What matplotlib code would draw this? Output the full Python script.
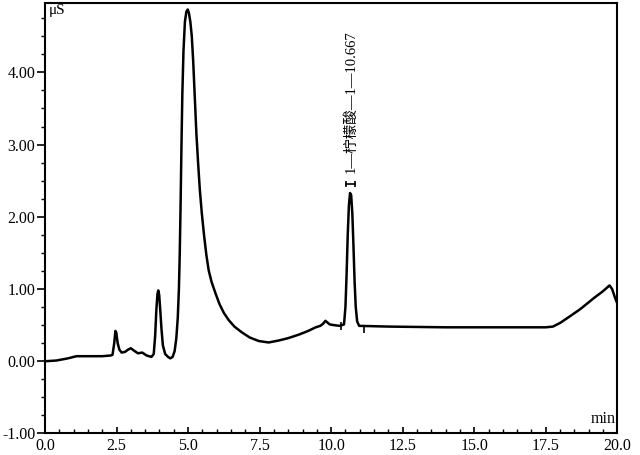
import matplotlib.pyplot as plt
from matplotlib.ticker import MultipleLocator

# retention time (min) and conductivity (uS)
t = [0.00, 0.40, 0.80, 1.10, 1.50, 2.00, 2.30, 2.36, 2.42, 2.46, 2.49, 2.54,
     2.60, 2.68, 2.80, 2.90, 3.00, 3.10, 3.25, 3.40, 3.55, 3.72, 3.80, 3.85,
     3.89, 3.93, 3.96, 3.99, 4.03, 4.07, 4.12, 4.20, 4.30, 4.38, 4.46, 4.53,
     4.59, 4.64, 4.68, 4.71, 4.74, 4.77, 4.80, 4.84, 4.89, 4.94, 4.99, 5.03,
     5.08, 5.13, 5.18, 5.23, 5.29, 5.35, 5.41, 5.48, 5.56, 5.64, 5.72, 5.82,
     5.95, 6.10, 6.25, 6.42, 6.62, 6.88, 7.15, 7.47, 7.82, 8.20, 8.50, 8.88,
     9.20, 9.46, 9.62, 9.72, 9.80, 9.86, 9.95, 10.10, 10.30, 10.45, 10.50,
     10.54, 10.58, 10.62, 10.66, 10.70, 10.74, 10.78, 10.82, 10.86, 10.91,
     10.98, 12.00, 14.00, 16.00, 17.50, 17.75, 18.00, 18.30, 18.70, 19.20,
     19.50, 19.73, 19.82, 19.92, 20.00]
signal = [0.00, 0.01, 0.04, 0.07, 0.07, 0.07, 0.08, 0.09, 0.25, 0.42, 0.40, 0.25,
          0.16, 0.12, 0.13, 0.16, 0.18, 0.15, 0.11, 0.12, 0.08, 0.06, 0.10, 0.35,
          0.70, 0.93, 0.98, 0.92, 0.70, 0.45, 0.22, 0.10, 0.06, 0.04, 0.06, 0.14,
          0.32, 0.60, 1.00, 1.50, 2.20, 3.00, 3.70, 4.30, 4.70, 4.84, 4.87, 4.82,
          4.70, 4.50, 4.15, 3.70, 3.16, 2.75, 2.38, 2.05, 1.74, 1.47, 1.26, 1.10,
          0.95, 0.79, 0.67, 0.57, 0.48, 0.40, 0.33, 0.28, 0.26, 0.29, 0.32, 0.37,
          0.42, 0.47, 0.49, 0.52, 0.56, 0.54, 0.51, 0.50, 0.49, 0.51, 0.75,
          1.20, 1.75, 2.15, 2.33, 2.30, 2.05, 1.60, 1.10, 0.75, 0.55,
          0.49, 0.48, 0.47, 0.47, 0.47, 0.48, 0.53, 0.61, 0.72, 0.88,
          0.97, 1.05, 1.00, 0.88, 0.80]

peak_label = "1—柠檬酸—1—10.667"
peak_time = 10.68
peak_height = 2.34
peak_start, peak_end = 10.34, 11.16
xticks = [0.0, 2.5, 5.0, 7.5, 10.0, 12.5, 15.0, 17.5, 20.0]
yticks = [-1.0, 0.0, 1.0, 2.0, 3.0, 4.0]

fig = plt.figure(figsize=(6.4, 4.55), dpi=100)
ax = fig.add_axes([0.0703, 0.0473, 0.8942, 0.9461])

ax.plot(t, signal, color='black', lw=1.8, solid_joinstyle='round')

# integration marks
ax.plot([peak_start], [0.49], marker='|', color='black', ms=6, mew=1.2)
ax.plot([peak_end], [0.45], marker='|', color='black', ms=6, mew=1.2)
ax.plot([peak_time - 0.17, peak_time + 0.17], [peak_height + 0.12] * 2,
        color='black', lw=1.2, marker='|', ms=5, mew=1.2)

ax.text(peak_time + 0.02, peak_height + 0.26, peak_label, rotation=90,
        ha='center', va='bottom', fontsize=10.5,
        family=['Liberation Serif', 'Noto Sans CJK SC'])

ax.set_xlim(0, 20)
ax.set_ylim(-1.0, 4.96)
ax.set_xticks(xticks)
ax.set_xticklabels(['%.1f' % v for v in xticks])
ax.set_yticks(yticks)
ax.set_yticklabels(['%.2f' % v for v in yticks])
ax.xaxis.set_minor_locator(MultipleLocator(0.5))
ax.yaxis.set_minor_locator(MultipleLocator(0.25))

ax.tick_params(axis='x', which='major', direction='in', length=4, width=1.2,
               pad=3, labelsize=11.5)
ax.tick_params(axis='x', which='minor', direction='in', length=3, width=1.0)
ax.tick_params(axis='y', which='major', direction='out', length=6, width=1.2,
               pad=1, labelsize=11.5)
ax.tick_params(axis='y', which='minor', direction='out', length=3, width=1.0)
for lab in ax.get_xticklabels() + ax.get_yticklabels():
    lab.set_family('Liberation Serif')

for sp in ax.spines.values():
    sp.set_linewidth(1.5)

ax.text(0.006, 0.998, 'μS', transform=ax.transAxes, ha='left', va='top',
        fontsize=11, family='Liberation Serif')
ax.text(0.998, 0.015, 'min', transform=ax.transAxes, ha='right', va='bottom',
        fontsize=11.5, family='Liberation Serif')

fig.savefig('out.png', dpi=100)
